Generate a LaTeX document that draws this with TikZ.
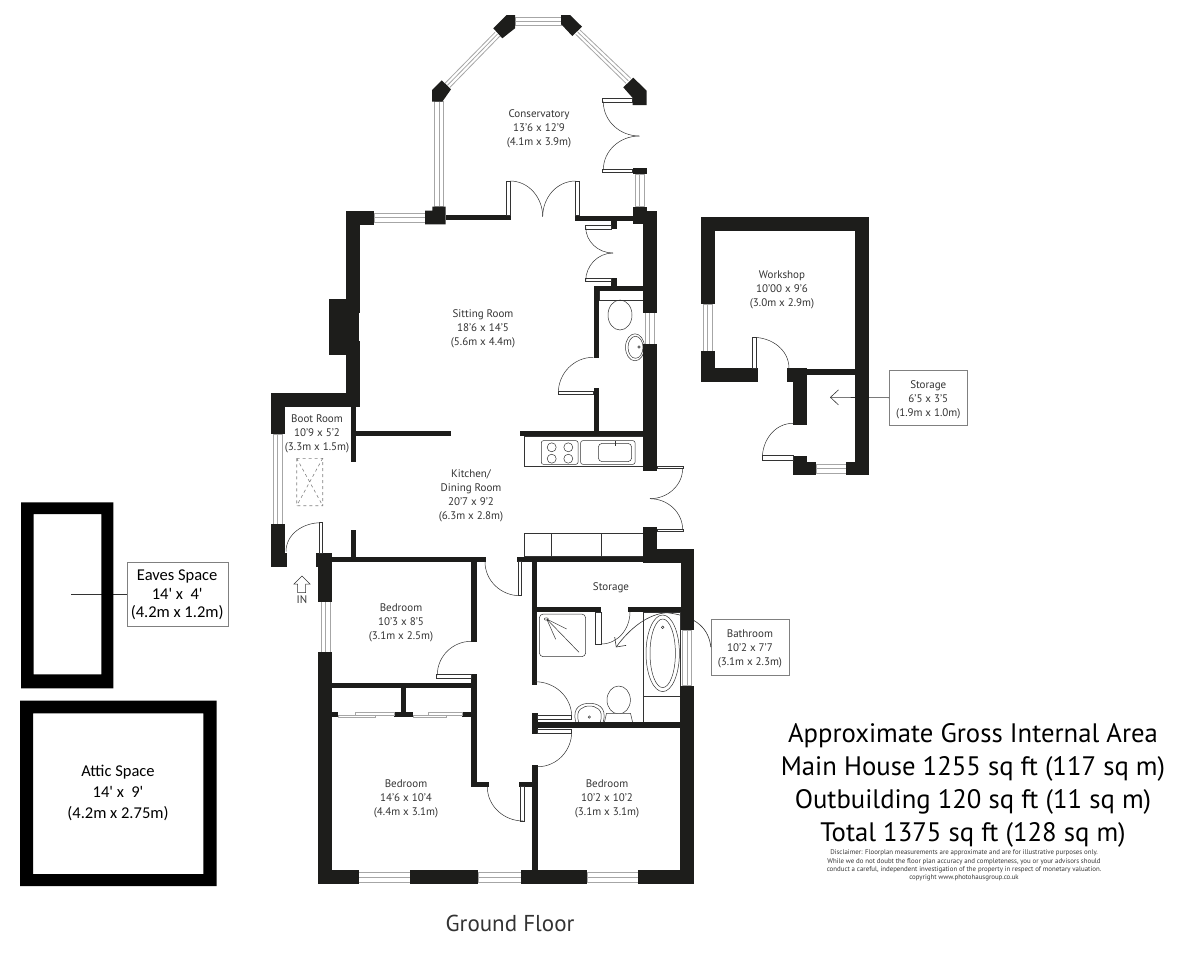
\documentclass[tikz,border=0pt]{standalone}
\usepackage{fontspec}
\setmainfont{PT Sans}
\newfontfamily\notefont{Carlito}
\usetikzlibrary{arrows.meta}
\definecolor{wallcol}{HTML}{1D1D1B}
\definecolor{textcol}{HTML}{333333}
\begin{document}
\begin{tikzpicture}[x=1pt, y=-1pt,
      wall/.style={fill=wallcol, draw=none},
      blackwall/.style={fill=black, draw=none},
      window/.style={draw=gray!70, line width=0.8pt, fill=white},
      leaf/.style={draw=textcol, line width=0.5pt, fill=white},
      swing/.style={draw=textcol, line width=0.5pt},
      fitting/.style={draw=textcol, line width=0.5pt},
      pointer/.style={draw=textcol, line width=0.6pt},
      room/.style={align=center, text=textcol, yshift=-2pt, font=\fontsize{11}{14}\selectfont},
      tag/.style={draw=gray, fill=white, inner sep=0pt},
      loft/.style={align=center, text=black, font=\notefont\fontsize{16.5}{21}\selectfont},
      area/.style={align=center, text=black, font=\fontsize{26.7}{33}\selectfont}
      ]
    \useasboundingbox (0, 0) rectangle (1200, 978);

    % boxes of the labels come first, their pointers run under the walls
    \node [tag, minimum width=77.7pt, minimum height=55.7pt] (bathtag) at (749.9, 647.2) {};
    \node [room] (bathname) at (bathtag) {Bathroom\\10’2 x 7’7\\(3.1m x 2.3m)};
    \node [tag, minimum width=78pt, minimum height=55.3pt] (storetag) at (928.3, 397.7) {};
    \node [room] (storename) at (storetag) {Storage\\6’5 x 3’5\\(1.9m x 1.0m)};
    \node [tag, minimum width=101pt, minimum height=64.7pt] (eavestag) at (177.2, 594.3) {};
    \node [loft, yshift=-0.5pt, font=\notefont\fontsize{16.5}{18.5}\selectfont] (eavesname) at (eavestag) {Eaves Space\\14' x~~4'\\(4.2m x 1.2m)};

    \coordinate (eavesend) at (71, 594.3);
    \coordinate (storeend) at (830, 397.3);
    \coordinate (bathbend) at (666.7, 612.7);
    \coordinate (bathend) at (616, 647.3);
    \path [pointer] (eavestag.west) -- (eavesend);
    \path [pointer, -{Straight Barb[length=8pt, width=15pt]}] (storetag.west) -- (storeend);
    \path [pointer, -{Straight Barb[length=7pt, width=14pt]}] (bathtag.west) .. controls (709, 630) and (698, 616) .. (bathbend) .. controls (648, 614) and (630, 628) .. (bathend);

    % windows, horizontal
    \foreach \xa/\ya/\xb/\yb in {515/17.3/561/25.7, 374.3/213.3/425/222, 816/464.3/846/473.3, 358.7/872/410/882, 478/872/521/882, 587.3/872/638/882} {
      \draw [window] (\xa, \ya) rectangle (\xb, \yb);
      \draw [window] (\xa, {(\ya+\yb)/2}) -- (\xb, {(\ya+\yb)/2});
    }
    % windows, vertical
    \foreach \xa/\ya/\xb/\yb in {434.3/101.7/443.7/206.7, 635.3/174.3/644.3/206.7, 645/312.7/654.3/344.3, 273.3/434.3/282/524, 321/601.7/330/652.3, 682.3/630/691.7/685.7, 703.3/304/712/351} {
      \draw [window] (\xa, \ya) rectangle (\xb, \yb);
      \draw [window] ({(\xa+\xb)/2}, \ya) -- ({(\xa+\xb)/2}, \yb);
    }
    % conservatory, slanted windows
    \draw [window] (495, 32.3) -- (445, 83.3) (500, 36) -- (450, 87.3) (497.5, 34.1) -- (447.5, 85.3);
    \draw [window] (580, 30) -- (630.7, 78.3) (575.7, 34.3) -- (626, 83.3) (577.8, 32.1) -- (628.3, 80.8);

    % kitchen fittings
    \draw [fitting] (524.3, 436) rectangle (643.3, 466);
    \draw [fitting, rounded corners=2pt] (541.3, 440.7) rectangle (578, 464.3);
    \foreach \xa/\ya in {551.7/447.3, 568.3/447.3, 551.7/458.7, 568.3/458.7}
      \draw [fitting] (\xa, \ya) circle [radius=4.5];
    \draw [fitting, rounded corners=2pt] (580.7, 440.7) rectangle (635, 464.3);
    \draw [fitting, rounded corners=4pt] (598.3, 443.3) rectangle (631.7, 461.7);
    \draw [fitting, line width=1pt] (615, 441) -- (615, 446);
    \draw [fitting] (524.3, 533.3) rectangle (643.3, 556.7);
    \draw [fitting] (551.7, 533.3) -- (551.7, 556.7) (601, 533.3) -- (601, 556.7);

    % cloakroom fittings
    \draw [fitting] (599, 290.7) rectangle (643.3, 300);
    \draw [fitting] (620, 315) ellipse [x radius=12, y radius=15];
    \draw [fitting] (635, 347.3) ellipse [x radius=9.5, y radius=13.5];
    \draw [fitting] (635.5, 347.3) ellipse [x radius=7.5, y radius=11];
    \draw [fitting] (639, 347) circle [radius=1.2];

    % bathroom fittings
    \draw [fitting, rounded corners=4pt] (539.3, 614) rectangle (585.7, 656.7);
    \draw [fitting] (546.7, 619) -- (566.7, 629) (546.7, 619) -- (555.7, 639.3) (546.7, 619) -- (579, 652.3);
    \draw [fitting] (546.3, 619) ellipse [x radius=2, y radius=1.2];
    \draw [fitting] (643.3, 612) rectangle (680.7, 696);
    \draw [fitting] (643.3, 696) rectangle (680.7, 722.7);
    \draw [fitting] (662.7, 653.3) ellipse [x radius=16.7, y radius=38.3];
    \draw [fitting] (662.7, 653.3) ellipse [x radius=12.7, y radius=34.3];
    \draw [fitting] (662.7, 627.3) circle [radius=1.3];
    \draw [fitting] (618.7, 700) ellipse [x radius=11.7, y radius=14];
    \draw [fitting, fill=white] (604.3, 722.7) -- (606.5, 713.3) -- (630.5, 713.3) -- (632.7, 722.7);
    \draw [fitting] (576, 722.7) .. controls (571, 706) and (583, 703.3) .. (589.5, 703.3) .. controls (596, 703.3) and (608, 706) .. (603, 722.7);
    \draw [fitting] (579, 722.7) .. controls (574, 709) and (584, 706) .. (589.5, 706) .. controls (595, 706) and (605, 709) .. (600, 722.7);
    \draw [fitting] (589.3, 717) circle [radius=1.2];

    % roof window in boot room
    \draw [dashed, draw=gray, line width=0.6pt] (296.7, 458.3) rectangle (322.7, 505.7) (296.7, 458.3) -- (322.7, 505.7) (322.7, 458.3) -- (296.7, 505.7);

    % walls
    \foreach \xa/\ya/\xb/\yb in {%
      445.7/215/510.7/220.3, 575/215.7/633.3/220.7, 611/216/616.7/229, 611/278/616.7/286,
      643.3/210.7/657/312.7, 633/206.7/646.7/224, 593.7/286/643.3/290.7, 593.7/286/599/358.3,
      593.7/388.3/599/431.7, 520/430.7/643.3/436, 643.3/344.3/657/470.7, 643.3/527.3/657/563,
      643.3/549.3/694/562.7, 680.7/549.3/694/630, 516.7/556.7/643.3/561.7,
      346.3/210.7/360/312.7, 346.3/341/360/406.7, 346.3/210.7/374.3/224.7, 329.3/299.3/358.7/355,
      271/392.7/360/406.7, 271/392.7/285/434.3, 350.7/406.7/356/462.3, 356/430.7/451.3/436,
      270.7/524/284.7/566.7, 284.7/553.3/287.3/566.7, 315.7/553.3/332.3/566.7, 318.3/566.7/332.3/601.7,
      350.7/530/356/556.7, 332.3/556.7/486/561.7, 471.3/561.7/476.7/642.3, 471.3/674/476.7/786.7,
      332.3/682.7/471.3/688.3, 471.3/781.7/489.3/786.7, 519.3/781.7/532.3/786.7,
      318.3/652.3/332.3/884, 318.3/870/358.7/884, 410/870/478/884, 521/870/587.3/884, 638/870/694/884,
      680/685.7/694/884, 532.3/765/537.7/870, 532/713.3/537.7/734.3, 537.7/722.3/680/727.7,
      532/560/537.3/685, 537.3/606.7/601/612, 628/606.7/680.7/612,
      401/687/406.3/712.3, 394/712.3/413.3/717.3, 332.3/712.3/338/717.3, 462/712.3/471.3/717.3,
      632.7/167.7/646.7/174.3,
      700.7/216.7/869/230.7, 700.7/216.7/714.7/304, 855/216.7/869/475, 700.7/351/714.7/382,
      714.7/368.3/757.7/382, 787.3/368.3/806.7/382, 793/382/806.7/424.7, 806.7/369.3/855.7/375,
      793/455.7/806.7/475, 806.7/461.7/816/475, 846/461.7/855/475}
      \fill [wall] (\xa, \ya) rectangle (\xb, \yb);
    % conservatory posts
    \fill [wall] (515, 15) -- (506.7, 15) -- (493.3, 28.3) -- (502.3, 38.3) -- (515, 28.3) -- cycle;
    \fill [wall] (561, 15) -- (570, 15) -- (582, 26.7) -- (572.3, 36) -- (561, 24) -- cycle;
    \fill [wall] (441.7, 80.3) -- (451, 89.3) -- (442.3, 101.7) -- (432, 101.7) -- (432, 90) -- cycle;
    \fill [wall] (633.3, 77.7) -- (646.7, 90.7) -- (646.7, 105) -- (632.7, 105) -- (632.7, 98) -- (623.3, 87.3) -- cycle;
    \fill [wall] (432.3, 206.7) -- (445.7, 206.7) -- (445.7, 224.3) -- (425, 224.3) -- (425, 210.7) -- (432.3, 210.7) -- cycle;

    % door leaves
    \foreach \xa/\ya/\xb/\yb in {%
      506/181/510/215, 575.7/181/579.7/215.7, 602.7/98.7/632.7/102.3, 602.7/169.3/632.7/172.7,
      585.7/225/611/229, 585.7/278.3/611/281.7, 558.3/391.7/593.7/394,
      657/466/683.3/468, 657/529/683.3/531.7, 319.3/522.7/322.7/553.3, 518.3/561.7/521.7/595.7,
      436.7/674.3/471.3/678.7, 520.7/786.7/524/821, 537.7/715/571.7/719, 537.7/729.3/571.7/733.3,
      595.7/612/601/644.3, 752.3/337.3/756.3/368.3, 762.3/455.7/793.3/460}
      \draw [leaf] (\xa, \ya) rectangle (\xb, \yb);
    % door swings
    \foreach \xa/\ya/\ot/\it/\xb/\yb in {%
      510/181/0/90/542.7/216.7, 575.7/181/180/90/542.7/216.7,
      603.3/101.7/-90/180/639.3/136, 603.3/170/90/180/639.3/136,
      585.7/227/-90/180/613/253, 585.7/281/90/180/613/253,
      593.3/357.3/180/90/558.3/393, 682.7/468/-90/0/650/498.7, 682.7/530/90/0/650/498.7,
      286/551.7/90/180/321/522.7, 485/561.7/-90/180/520/595.7, 471.3/641.3/180/90/437.3/675,
      487.3/786.7/-90/180/523.3/821, 535/681.7/0/90/571.7/716.7, 571.7/731.7/-90/0/537.7/766.7,
      601/644/0/-90/630/612, 753/337.3/0/90/789/368.3, 793/423.3/180/90/762.3/458.3}
      \draw [swing] (\xa, \ya) to[out=\ot, in=\it] (\xb, \yb);
    % sliding wardrobe doors
    \foreach \xa/\ya/\xb/\yb in {338/715/375.3/717.3, 355.3/712.3/394/715, 413.3/715/446.7/717.3, 428.3/712.3/462/715}
      \draw [draw=gray!70, line width=0.5pt, fill=white] (\xa, \ya) rectangle (\xb, \yb);

    % entrance arrow
    \draw [draw=textcol, line width=0.5pt] (302, 576) -- (310, 584) -- (305.7, 584) -- (305.7, 592.7) -- (297.7, 592.7) -- (297.7, 584) -- (294, 584) -- cycle;
    \node [room] (entry) at (302, 598) {IN};

    % spaces on the left
    \fill [blackwall, even odd rule] (21, 502.3) rectangle (113.3, 688.3) (33.7, 514) rectangle (101.3, 674.3);
    \fill [blackwall, even odd rule] (20, 700.7) rectangle (216.7, 886) (33, 713.3) rectangle (203.3, 874);
    \node [loft] (attic) at (118, 792.5) {Attic Space\\14' x~~9'\\(4.2m x 2.75m)};

    % room names
    \node [room] (conservatory) at (539, 127) {Conservatory\\13’6 x 12’9\\(4.1m x 3.9m)};
    \node [room] (sitting) at (483, 327) {Sitting Room\\18’6 x 14’5\\(5.6m x 4.4m)};
    \node [room] (boot) at (317, 432) {Boot Room\\10’9 x 5’2\\(3.3m x 1.5m)};
    \node [room] (kitchen) at (471, 494) {Kitchen/\\Dining Room\\20’7 x 9’2\\(6.3m x 2.8m)};
    \node [room] (bedone) at (401, 621) {Bedroom\\10’3 x 8’5\\(3.1m x 2.5m)};
    \node [room] (bedtwo) at (406, 797) {Bedroom\\14’6 x 10’4\\(4.4m x 3.1m)};
    \node [room] (bedthree) at (607, 797) {Bedroom\\10’2 x 10’2\\(3.1m x 3.1m)};
    \node [room] (storage) at (611, 586) {Storage};
    \node [room] (workshop) at (782, 288) {Workshop\\10’00 x 9’6\\(3.0m x 2.9m)};
    \node [font=\fontsize{23}{27}\selectfont, text=textcol] (floorname) at (510, 923) {Ground Floor};

    \node [area, yshift=-3pt] (areas) at (973, 782.5) {Approximate Gross Internal Area\\Main House 1255 sq ft (117 sq m)\\Outbuilding 120 sq ft (11 sq m)\\Total 1375 sq ft (128 sq m)};
    \node [align=center, text=textcol, font=\fontsize{6.85}{8.2}\selectfont] (disclaimer) at (964, 865.5) {Disclaimer: Floorplan measurements are approximate and are for illustrative purposes only.\\While we do not doubt the floor plan accuracy and completeness, you or your advisors should\\conduct a careful, independent investigation of the property in respect of monetary valuation.\\copyright www.photohausgroup.co.uk};
  \end{tikzpicture}
\end{document}
